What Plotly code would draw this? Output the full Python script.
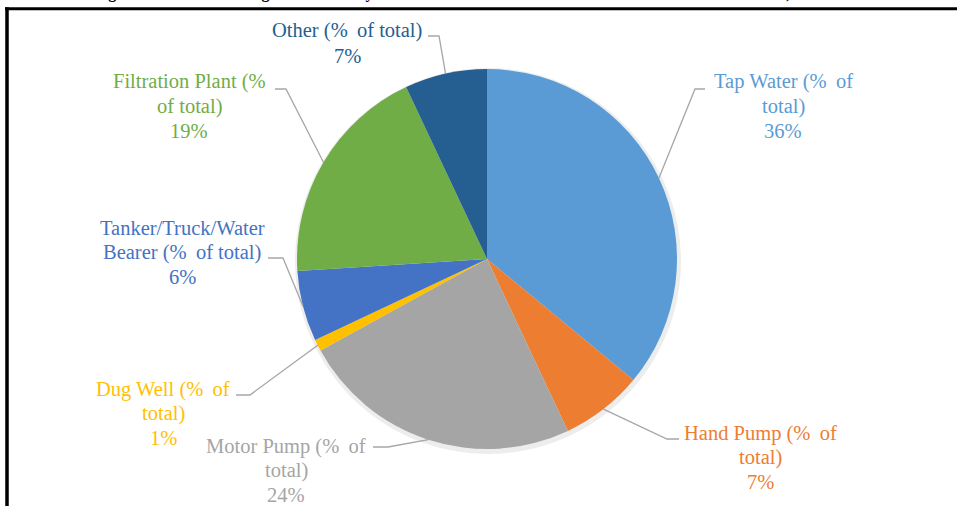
import math
import plotly.graph_objects as go

W, H = 957, 506

# ---- data ----
categories = ["Tap Water", "Hand Pump", "Motor Pump", "Dug Well",
              "Tanker/Truck/Water Bearer", "Filtration Plant", "Other"]
values = [36, 7, 24, 1, 6, 19, 7]
label_lines = [
    ["Tap Water (%\u2009 of", "total)"],
    ["Hand Pump (%\u2009 of", "total)"],
    ["Motor Pump (%\u2009 of", "total)"],
    ["Dug Well (%\u2009 of", "total)"],
    ["Tanker/Truck/Water", "Bearer (%\u2009 of total)"],
    ["Filtration Plant (%", "of total)"],
    ["Other (%\u2009 of total)"],
]
title_text = ("Drinking Water Sources among Households by Location of Source "
              "in Rural and Urban Areas of Sindh 2020)")

# ---- style / layout ----
colors = ["#5B9BD5", "#ED7D31", "#A5A5A5", "#FFC000", "#4472C4", "#70AD47", "#255E91"]
FONT = "'Times New Roman', 'Liberation Serif', Tinos, 'DejaVu Serif', serif"
FS = 20.5
LS = 24.5
# label placement (pixel): center x, first-line center y
label_pos = [(783, 82), (760, 433), (286, 446), (163, 389), (182, 228), (189, 82), (347, 31)]
# leader line: text end, elbow (pixel)
leader_pts = [((705, 89), (695, 89)), ((679, 439), (667, 439)), ((373, 447), (388, 447)),
              ((236, 395), (250, 395)), ((268, 258), (283, 258)), ((275, 89), (286, 89)),
              ((428, 36), (439, 36))]

dom_x = [297 / W, 677 / W]
dom_y = [1 - 449 / H, 1 - 69 / H]


def px(x):
    return x / W


def py(y):
    return 1 - y / H


cx = (dom_x[0] + dom_x[1]) / 2 * W
cy = H * (1 - (dom_y[0] + dom_y[1]) / 2)
rad = min((dom_x[1] - dom_x[0]) * W, (dom_y[1] - dom_y[0]) * H) / 2

fig = go.Figure()
fig.add_trace(go.Pie(
    labels=categories, values=values, sort=False, direction="clockwise",
    rotation=0, marker=dict(colors=colors, line=dict(width=0)),
    textinfo="none", hoverinfo="label+percent", showlegend=False,
    domain=dict(x=dom_x, y=dom_y),
))

shapes = []
# faint shadow behind the pie
shapes.append(dict(type="circle", xref="paper", yref="paper", layer="below",
                   x0=px(cx - rad - 2), x1=px(cx + rad + 4),
                   y0=py(cy + rad + 5), y1=py(cy - rad - 1),
                   fillcolor="rgba(0,0,0,0.07)", line=dict(width=0)))
# frame
shapes.append(dict(type="line", xref="paper", yref="paper", x0=px(5), x1=px(957),
                   y0=py(8.7), y1=py(8.7), line=dict(color="black", width=3)))
shapes.append(dict(type="line", xref="paper", yref="paper", x0=px(7), x1=px(7),
                   y0=py(7.2), y1=py(506), line=dict(color="black", width=3.5)))

annotations = []
total = sum(values)
cum = 0
for i, (cat, v) in enumerate(zip(categories, values)):
    mid = (cum + v / 2) / total * 2 * math.pi
    cum += v
    ex = cx + rad * math.sin(mid)
    ey = cy - rad * math.cos(mid)
    (tx, ty), (bx, by) = leader_pts[i]
    shapes.append(dict(type="path", xref="paper", yref="paper",
                       path=f"M {px(tx)},{py(ty)} L {px(bx)},{py(by)} L {px(ex)},{py(ey)}",
                       line=dict(color="#A6A6A6", width=1.3)))
    lines = label_lines[i] + [f"{v}%"]
    lx, ly = label_pos[i]
    for j, t in enumerate(lines):
        annotations.append(dict(text=t, x=px(lx), y=py(ly + j * LS), xref="paper", yref="paper",
                                xanchor="center", yanchor="middle", showarrow=False,
                                font=dict(family=FONT, size=FS, color=colors[i])))

annotations.append(dict(text=f"<b>{title_text}</b>", x=px(52), y=py(4), xref="paper", yref="paper",
                        xanchor="left", yanchor="bottom", showarrow=False,
                        font=dict(family=FONT, size=16, color="black")))

fig.update_layout(width=W, height=H, margin=dict(l=0, r=0, t=0, b=0),
                  paper_bgcolor="white", plot_bgcolor="white",
                  shapes=shapes, annotations=annotations)

fig.write_html("out.html", config={"displayModeBar": False},
               post_script="document.body.style.margin='0';document.body.style.padding='0';"
                           "document.body.style.overflow='hidden';")
